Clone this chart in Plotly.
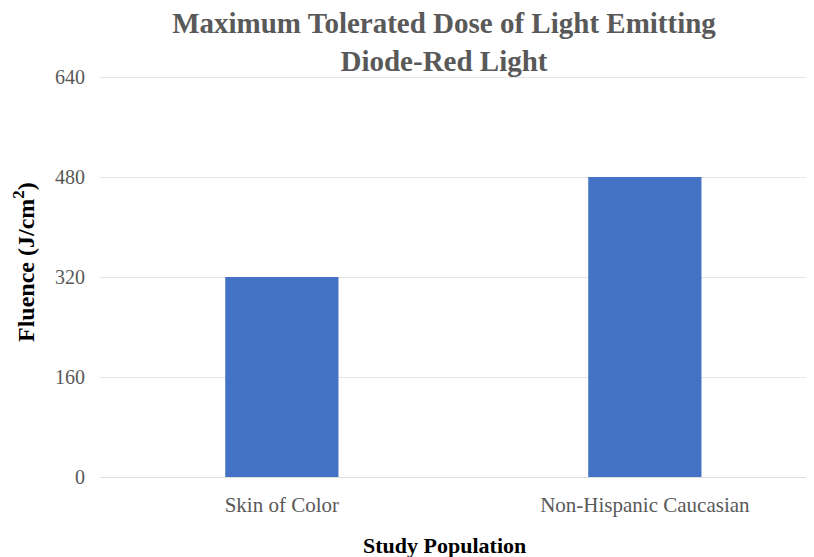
import plotly.graph_objects as go

categories = ["Skin of Color", "Non-Hispanic Caucasian"]
fluence = [320, 480]
y_ticks = [0, 160, 320, 480, 640]

# The page body has an 8px margin, so the figure is drawn 8px in from the top-left.
OFF = 8
Y_TOP = 648  # a little headroom so the 640 gridline is not clipped at the plot edge
W, H = 814 - OFF, 557 - OFF
zero_px = 477
top_px = zero_px - (zero_px - 77) * Y_TOP / 640
ml, mr = 100 - OFF, 0
mt = top_px - OFF
mb = H - (zero_px - OFF)
pw = W - ml - mr
ph = H - mt - mb

def px_to_paper_x(px):
    return (px - OFF - ml) / pw

def px_to_paper_y(py):
    return 1 - (py - OFF - mt) / ph

serif = "Liberation Serif, Times New Roman, serif"

fig = go.Figure(go.Bar(
    x=categories, y=fluence, width=0.312,
    marker=dict(color="#4472C4", line=dict(width=0)),
    hoverinfo="skip",
))

fig.update_layout(
    width=W, height=H,
    margin=dict(l=ml, r=mr, t=mt, b=mb, pad=0),
    paper_bgcolor="white", plot_bgcolor="white",
    showlegend=False,
    title=dict(
        text="<b>Maximum Tolerated Dose of Light Emitting<br>Diode-Red Light</b>",
        x=(444 - OFF) / W, xanchor="center", xref="container",
        y=1 - (33 - OFF) / H, yanchor="middle", yref="container",
        font=dict(family=serif, size=29, color="#595959"),
    ),
    font=dict(family=serif),
)
fig.update_xaxes(
    range=[-0.501, 1.466],
    showgrid=False, zeroline=False, showline=False,
    ticks="", ticklabelstandoff=13,
    tickfont=dict(family=serif, size=21, color="#595959"),
)
fig.update_yaxes(
    range=[0, Y_TOP], tickvals=y_ticks,
    showgrid=True, gridcolor="#E4E4E4", gridwidth=1,
    zeroline=True, zerolinecolor="#DDDDDD", zerolinewidth=1,
    showline=False, ticks="", ticklabelstandoff=14,
    tickfont=dict(family=serif, size=20, color="#595959"),
)
fig.add_annotation(
    text="<b>Study Population</b>", xref="paper", yref="paper",
    x=px_to_paper_x(444), y=px_to_paper_y(545),
    xanchor="center", yanchor="middle", showarrow=False,
    font=dict(family=serif, size=22, color="black"),
)
fig.add_annotation(
    text="<b>Fluence (J/cm<sup>2</sup>)</b>", xref="paper", yref="paper",
    x=px_to_paper_x(24), y=px_to_paper_y(262), textangle=-90,
    xanchor="center", yanchor="middle", showarrow=False,
    font=dict(family=serif, size=24, color="black"),
)
fig.write_html("out.html")
